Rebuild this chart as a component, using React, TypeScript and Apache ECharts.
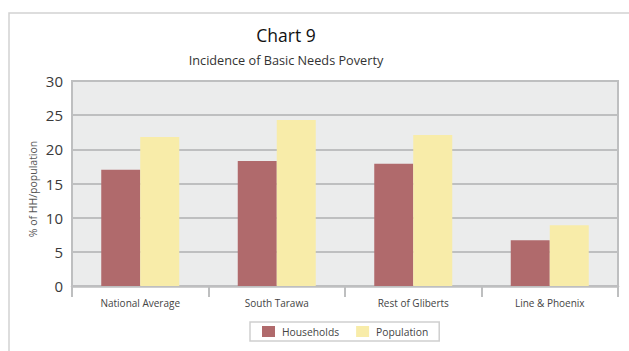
import React, { useEffect, useRef } from "react";
import * as echarts from "echarts";

// Incidence of basic needs poverty by area (%)
const categories = ["National Average", "South Tarawa", "Rest of Gliberts", "Line & Phoenix"];
const households = [17.0, 18.3, 17.9, 6.7];
const population = [21.8, 24.3, 22.1, 8.9];

const FONT = "'Open Sans', 'Noto Sans', sans-serif";
const GRID_GREY = "#BEBFC0";

export default function App() {
  const ref = useRef<HTMLDivElement>(null);

  useEffect(() => {
    if (!ref.current) return;
    const chart = echarts.init(ref.current, undefined, { renderer: "svg" });
    chart.setOption({
      animation: false,
      backgroundColor: "#ffffff",
      textStyle: { fontFamily: FONT },
      graphic: [
        {
          type: "rect",
          shape: { x: 9, y: 13, width: 700, height: 400 },
          style: { fill: "none", stroke: "#D2D2D2", lineWidth: 1.5 },
          silent: true,
        },
        {
          type: "text",
          x: 286,
          y: 35,
          style: {
            text: "Chart 9",
            font: `17.5px ${FONT}`,
            fill: "#111111",
            align: "center",
            verticalAlign: "middle",
          },
        },
        {
          type: "text",
          x: 286,
          y: 60,
          style: {
            text: "Incidence of Basic Needs Poverty",
            font: `12.7px ${FONT}`,
            fill: "#333333",
            align: "center",
            verticalAlign: "middle",
          },
        },
        {
          type: "text",
          x: 33,
          y: 189,
          rotation: Math.PI / 2,
          style: {
            text: "% of HH/population",
            font: `10.5px ${FONT}`,
            fill: "#555555",
            align: "center",
            verticalAlign: "middle",
          },
        },
      ],
      grid: {
        left: 72,
        right: 11,
        top: 81,
        bottom: 65,
        show: true,
        backgroundColor: "#EBECEC",
        borderColor: GRID_GREY,
        borderWidth: 2,
      },
      legend: {
        left: 250,
        top: 322,
        itemWidth: 13,
        itemHeight: 11,
        itemGap: 17,
        padding: [4, 11, 4, 12],
        borderColor: "#CFCFCF",
        borderWidth: 1.5,
        icon: "rect",
        textStyle: { fontSize: 10.3, color: "#444444", fontFamily: FONT, padding: [0, 0, 0, 2] },
        data: ["Households", "Population"],
      },
      xAxis: {
        type: "category",
        data: categories,
        axisLine: { show: true, lineStyle: { color: GRID_GREY, width: 2.5 } },
        axisTick: { show: true, length: 11, interval: 0, lineStyle: { color: GRID_GREY, width: 2 } },
        axisLabel: { fontSize: 10, color: "#444444", margin: 12, interval: 0 },
      },
      yAxis: {
        type: "value",
        min: 0,
        max: 30,
        interval: 5,
        axisLine: { show: false },
        axisTick: { show: false },
        axisLabel: { fontSize: 15, color: "#3A3A3A", margin: 9 },
        splitLine: { show: true, lineStyle: { color: GRID_GREY, width: 2 } },
      },
      series: [
        {
          name: "Households",
          type: "bar",
          data: households,
          barWidth: 39,
          barGap: "0%",
          itemStyle: { color: "#B06A6C" },
        },
        {
          name: "Population",
          type: "bar",
          data: population,
          barWidth: 39,
          barGap: "0%",
          itemStyle: { color: "#F8ECA9" },
        },
      ],
    });
    return () => chart.dispose();
  }, []);

  return <div ref={ref} style={{ width: 629, height: 351, position: "absolute", left: 0, top: 0 }} />;
}
